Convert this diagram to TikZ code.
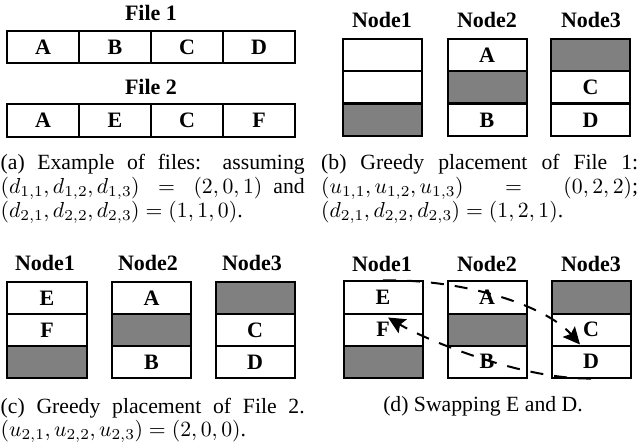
\documentclass[tikz,border=0pt]{standalone}
\usepackage{fix-cm}
\usepackage[no-math]{fontspec}
\setmainfont{Liberation Serif}[BoldFont={Liberation Serif Bold}]
\usetikzlibrary{arrows.meta,calc}
% math in the captions keeps the 10/7/5 point designs when scaled up
\DeclareFontShape{OT1}{cmr}{m}{n}{<-12> cmr5 <12-18> cmr7 <18-> cmr10}{}
\DeclareFontShape{OML}{cmm}{m}{it}{<-12> cmmi5 <12-18> cmmi7 <18-> cmmi10}{}
\DeclareFontShape{OMS}{cmsy}{m}{n}{<-12> cmsy5 <12-18> cmsy7 <18-> cmsy10}{}
\DeclareFontShape{OMX}{cmex}{m}{n}{<-> cmex10}{}
\tolerance=10000
\hbadness=10000
\definecolor{slot}{RGB}{128,128,128}
\tikzset{
  cell/.style={draw, line width=2bp, minimum width=79bp, minimum height=32bp,
    inner sep=0pt, font=\fontsize{22bp}{26bp}\selectfont\bfseries},
  filecell/.style={cell, minimum width=72bp, minimum height=32.5bp},
  used/.style={cell, fill=slot},
  title/.style={anchor=base, inner sep=0pt, font=\fontsize{22bp}{26bp}\selectfont\bfseries},
  subcap/.style={anchor=base west, inner sep=0pt, align=justify,
    font=\fontsize{21.7bp}{23.6bp}\selectfont},
  swap/.style={dash pattern=on 13bp off 11bp, line width=2bp,
    -{Stealth[length=17bp,width=16bp,inset=3bp]}}
}
\begin{document}
\begin{tikzpicture}[x=1bp, y=-1bp]
\useasboundingbox (0,0) rectangle (642,445);

% (a) the two files
\node[title] (f1) at (151,21) {File 1};
\node[filecell] (f1a) at (43,47)  {A};
\node[filecell] (f1b) at (115,47) {B};
\node[filecell] (f1c) at (187,47) {C};
\node[filecell] (f1d) at (259,47) {D};
\node[title] (f2) at (151,95) {File 2};
\node[filecell] (f2a) at (43,120.5)  {A};
\node[filecell] (f2e) at (115,120.5) {E};
\node[filecell] (f2c) at (187,120.5) {C};
\node[filecell] (f2f) at (259,120.5) {F};
\node[subcap, text width=304bp] (capa) at (0.5,170)
  {(a) Example of files: assuming\linebreak
   $(d_{1,1},d_{1,2},d_{1,3})=(2,0,1)$ and\linebreak
   $(d_{2,1},d_{2,2},d_{2,3})=(1,1,0)$.};

% (b) greedy placement of file 1
\node[title] (b1) at (382,28) {Node1};
\node[title] (b2) at (487,28) {Node2};
\node[title] (b3) at (591,28) {Node3};
\node[cell] (b1r1) at (382.5,55)   {};
\node[cell] (b1r2) at (382.5,87.5) {};
\node[used] (b1r3) at (382.5,120)  {};
\node[cell] (b2r1) at (487,55)   {A};
\node[used] (b2r2) at (487,87.5) {};
\node[cell] (b2r3) at (487,120)  {B};
\node[used] (b3r1) at (590.5,55)   {};
\node[cell] (b3r2) at (590.5,87.5) {C};
\node[cell] (b3r3) at (590.5,120)  {D};
\node[subcap, text width=317bp] (capb) at (321,170)
  {(b) Greedy placement of File 1:\linebreak
   $(u_{1,1},u_{1,2},u_{1,3})=(0,2,2)$;\linebreak
   $(d_{2,1},d_{2,2},d_{2,3})=(1,2,1)$.};

% (c) greedy placement of file 2
\node[title] (c1) at (45,271)  {Node1};
\node[title] (c2) at (148,271) {Node2};
\node[title] (c3) at (252,271) {Node3};
\node[cell] (c1r1) at (47,298) {E};
\node[cell] (c1r2) at (47,330) {F};
\node[used] (c1r3) at (47,362) {};
\node[cell] (c2r1) at (151.5,298) {A};
\node[used] (c2r2) at (151.5,330) {};
\node[cell] (c2r3) at (151.5,362) {B};
\node[used] (c3r1) at (255,298) {};
\node[cell] (c3r2) at (255,330) {C};
\node[cell] (c3r3) at (255,362) {D};
\node[subcap, text width=304bp] (capc) at (0.5,413)
  {(c) Greedy placement of File 2.\linebreak
   $(u_{2,1},u_{2,2},u_{2,3})=(2,0,0)$.};

% (d) swapping E and D
\node[title] (d1) at (382,272) {Node1};
\node[title] (d2) at (487,272) {Node2};
\node[title] (d3) at (591,272) {Node3};
\node[cell] (d1E) at (383,297.5) {E};
\node[cell] (d1F) at (383,329.5) {F};
\node[used] (d1r3) at (383,361.5) {};
\node[cell] (d2A) at (487,297.5) {A};
\node[used] (d2r2) at (487,329.5) {};
\node[cell] (d2B) at (487,361.5) {B};
\node[used] (d3r1) at (591,297.5) {};
\node[cell] (d3C) at (591,329.5) {C};
\node[cell] (d3D) at (591,361.5) {D};
\draw[swap] (d1E.north) .. controls +(77,-2) and +(-35,-40) .. ($(d3D.north)+(-11,0)$);
\draw[swap] (d3D.south) .. controls +(-70,1) and +(37,22) .. ($(d1E.south)+(5,3)$);
\node[anchor=base, inner sep=0pt, font=\fontsize{21.7bp}{23.6bp}\selectfont] (capd)
  at (483,411) {(d) Swapping E and D.};
\end{tikzpicture}
\end{document}
